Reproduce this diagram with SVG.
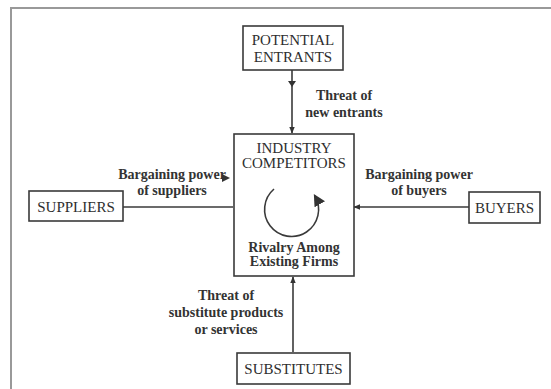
<svg xmlns="http://www.w3.org/2000/svg" width="551" height="389" viewBox="0 0 551 389">
<style>
.box{fill:#fff;stroke:#3a3a3a;stroke-width:1.6}
.lbl{font-family:"Liberation Serif","Times New Roman",serif;font-size:15px;fill:#2e2e2e;text-anchor:middle}
.b{font-family:"Liberation Serif","Times New Roman",serif;font-size:14px;font-weight:bold;fill:#333;text-anchor:middle}
.ln{stroke:#3a3a3a;stroke-width:1.6;fill:none}
</style>
<defs>
<marker id="ah" viewBox="0 0 10 10" refX="9" refY="5" markerWidth="7" markerHeight="7" orient="auto" markerUnits="userSpaceOnUse">
<path d="M0,1 L10,5 L0,9 z" fill="#333"/>
</marker>
<marker id="ah2" viewBox="0 0 10 10" refX="8" refY="5" markerWidth="12" markerHeight="12" orient="auto" markerUnits="userSpaceOnUse">
<path d="M0,0 L10,5 L0,10 z" fill="#333"/>
</marker>
</defs>
<rect width="551" height="389" fill="#fff"/>
<path d="M11,389 V8 H551" fill="none" stroke="#999" stroke-width="2"/>
<g id="connectors">
<path class="ln" d="M292,70 V133" marker-end="url(#ah)"/>
<path d="M288,81 L292,87 L296,81 z" fill="#333"/>
<path class="ln" d="M123,207 H233"/>
<path d="M222,174 L230,178 L222,182 z" fill="#333"/>
<path class="ln" d="M469,207 H354" marker-end="url(#ah)"/>
<path class="ln" d="M293,352 V277" marker-end="url(#ah)"/>
</g>
<g id="potential-entrants">
<rect class="box" x="243" y="26" width="100" height="44"/>
<text class="lbl" x="293" y="45">POTENTIAL</text>
<text class="lbl" x="293" y="62">ENTRANTS</text>
</g>
<g id="industry-competitors">
<rect class="box" x="234" y="134" width="120" height="142"/>
<text class="lbl" x="294" y="153">INDUSTRY</text>
<text class="lbl" x="294" y="168">COMPETITORS</text>
<path class="ln" d="M274,189 A27,27 0 1 0 315,196" marker-end="url(#ah2)"/>
<text class="b" x="294" y="252">Rivalry Among</text>
<text class="b" x="294" y="266">Existing Firms</text>
</g>
<g id="suppliers">
<rect class="box" x="29" y="191" width="94" height="30"/>
<text class="lbl" x="76" y="212">SUPPLIERS</text>
</g>
<g id="buyers">
<rect class="box" x="469" y="192" width="71" height="31"/>
<text class="lbl" x="504.5" y="213">BUYERS</text>
</g>
<g id="substitutes">
<rect class="box" x="237" y="353" width="113" height="31"/>
<text class="lbl" x="293.5" y="374">SUBSTITUTES</text>
</g>
<g id="labels">
<text class="b" x="344" y="100">Threat of</text>
<text class="b" x="344" y="117">new entrants</text>
<text class="b" x="172" y="179">Bargaining power</text>
<text class="b" x="172" y="195">of suppliers</text>
<text class="b" x="419" y="179">Bargaining power</text>
<text class="b" x="419" y="195">of buyers</text>
<text class="b" x="226" y="300">Threat of</text>
<text class="b" x="226" y="317">substitute products</text>
<text class="b" x="226" y="334">or services</text>
</g>
</svg>
